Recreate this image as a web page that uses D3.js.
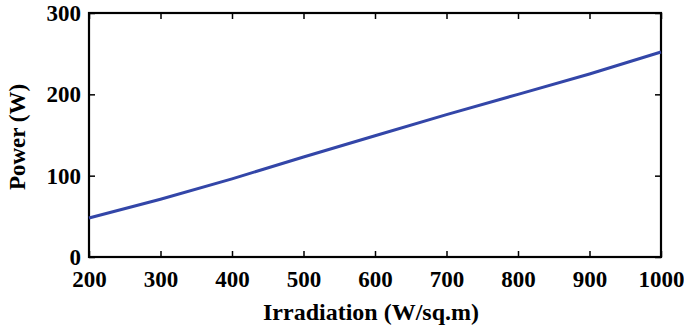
<!DOCTYPE html>
<html>
<head>
<meta charset="utf-8">
<script src="https://cdn.jsdelivr.net/npm/d3@7"></script>
<style>
  body { margin: 0; background: #fff; }
</style>
</head>
<body>
<script>
// data
var irradiation = [200, 300, 400, 500, 600, 700, 800, 900, 1000];
var power = [48, 71, 96, 123, 149, 175, 200, 225, 252];
var xTicks = [200, 300, 400, 500, 600, 700, 800, 900, 1000];
var yTicks = [0, 100, 200, 300];

var W = 684, H = 328;
var m = {left: 89, right: 23, top: 13, bottom: 71};
var pw = W - m.left - m.right, ph = H - m.top - m.bottom;
var FONT = "'Liberation Serif'";

var svg = d3.select('body').append('svg')
  .attr('width', W).attr('height', H);

var x = d3.scaleLinear().domain([200, 1000]).range([m.left, m.left + pw]);
var y = d3.scaleLinear().domain([0, 300]).range([m.top + ph, m.top]);
var fmt = d3.format('d');

// inward ticks on all four sides
var tl = 6;
svg.append('g').attr('transform', 'translate(0,' + (m.top + ph) + ')')
  .call(d3.axisBottom(x).tickValues(xTicks).tickFormat(fmt).tickSizeInner(-tl).tickSizeOuter(0).tickPadding(14))
  .call(function(g){ g.select('.domain').remove(); });
svg.append('g').attr('transform', 'translate(0,' + m.top + ')')
  .call(d3.axisTop(x).tickValues(xTicks).tickSizeInner(-tl).tickSizeOuter(0).tickFormat(''))
  .call(function(g){ g.select('.domain').remove(); });
svg.append('g').attr('transform', 'translate(' + m.left + ',0)')
  .call(d3.axisLeft(y).tickValues(yTicks).tickFormat(fmt).tickSizeInner(-tl).tickSizeOuter(0).tickPadding(8))
  .call(function(g){ g.select('.domain').remove(); });
svg.append('g').attr('transform', 'translate(' + (m.left + pw) + ',0)')
  .call(d3.axisRight(y).tickValues(yTicks).tickSizeInner(-tl).tickSizeOuter(0).tickFormat(''))
  .call(function(g){ g.select('.domain').remove(); });

svg.selectAll('.tick line').attr('stroke', '#000').attr('stroke-width', 1.5);
svg.selectAll('.tick text')
  .attr('fill', '#000')
  .style('font-family', FONT).style('font-weight', 'bold').style('font-size', '23px');

// frame
svg.append('rect')
  .attr('x', m.left).attr('y', m.top).attr('width', pw).attr('height', ph)
  .attr('fill', 'none').attr('stroke', '#000').attr('stroke-width', 2.2);

var line = d3.line()
  .x(function(d, i){ return x(irradiation[i]); })
  .y(function(d){ return y(d); });

svg.append('path').datum(power)
  .attr('d', line)
  .attr('fill', 'none')
  .attr('stroke', '#3346a8')
  .attr('stroke-width', 3)
  .attr('stroke-linejoin', 'round');

svg.append('text')
  .attr('x', m.left + pw / 2 - 4).attr('y', 320)
  .attr('text-anchor', 'middle')
  .style('font-family', FONT).style('font-weight', 'bold').style('font-size', '24px')
  .text('Irradiation (W/sq.m)');

svg.append('text')
  .attr('transform', 'translate(25,' + (m.top + ph / 2 + 2) + ') rotate(-90)')
  .attr('text-anchor', 'middle')
  .style('font-family', FONT).style('font-weight', 'bold').style('font-size', '23px')
  .text('Power (W)');
</script>
</body>
</html>
